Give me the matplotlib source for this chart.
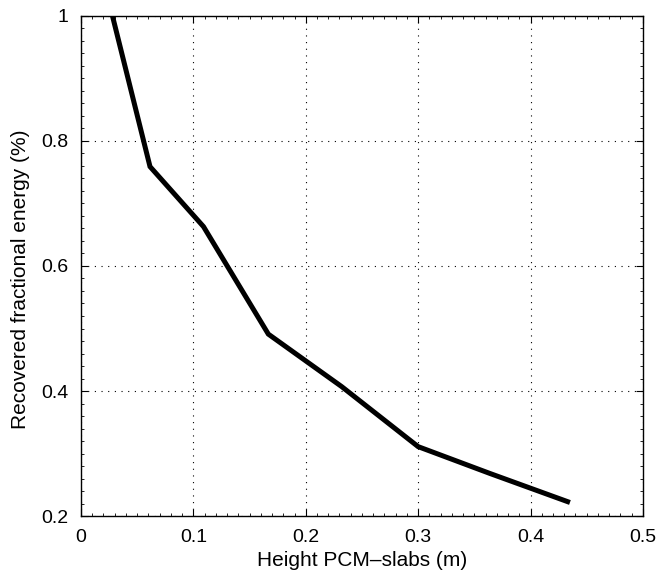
import numpy as np
import matplotlib.pyplot as plt
from matplotlib.ticker import MultipleLocator

# Данные
height = [0.028, 0.0614, 0.109, 0.1667, 0.232, 0.300, 0.364, 0.433]
energy = [1.0, 0.759, 0.663, 0.491, 0.407, 0.311, 0.268, 0.223]

x_ticks = [0, 0.1, 0.2, 0.3, 0.4, 0.5]
x_ticklabels = ['0', '0.1', '0.2', '0.3', '0.4', '0.5']
y_ticks = [0.2, 0.4, 0.6, 0.8, 1.0]
y_ticklabels = ['0.2', '0.4', '0.6', '0.8', '1']

plt.rcParams['font.family'] = ['Liberation Sans', 'DejaVu Sans']

fig = plt.figure(figsize=(6.56, 5.77), dpi=100)
ax = fig.add_axes([0.1235, 0.1057, 0.8565, 0.8666])

ax.plot(height, energy, color='black', linewidth=3.6, solid_joinstyle='miter')

ax.set_xlim(0, 0.5)
ax.set_ylim(0.2, 1.0)
ax.set_xticks(x_ticks)
ax.set_xticklabels(x_ticklabels)
ax.set_yticks(y_ticks)
ax.set_yticklabels(y_ticklabels)
ax.xaxis.set_minor_locator(MultipleLocator(0.01))
ax.yaxis.set_minor_locator(MultipleLocator(0.02))

ax.tick_params(which='both', direction='in', top=True, right=True, labelsize=14, colors='black')
ax.tick_params(which='major', length=5, width=0.8)
ax.tick_params(which='minor', length=2.5, width=0.6)
ax.tick_params(axis='x', pad=9)
ax.tick_params(axis='y', pad=9)

ax.grid(True, which='major', color='black', linestyle=(0, (1, 5)), linewidth=0.8)

for s in ax.spines.values():
    s.set_linewidth(1.0)

ax.set_xlabel('Height PCM\u2013slabs (m)', fontsize=15, labelpad=4)
ax.set_ylabel('Recovered fractional energy (%)', fontsize=15)
ax.yaxis.set_label_coords(-0.09, 0.474)

fig.savefig('out.png', dpi=100)
